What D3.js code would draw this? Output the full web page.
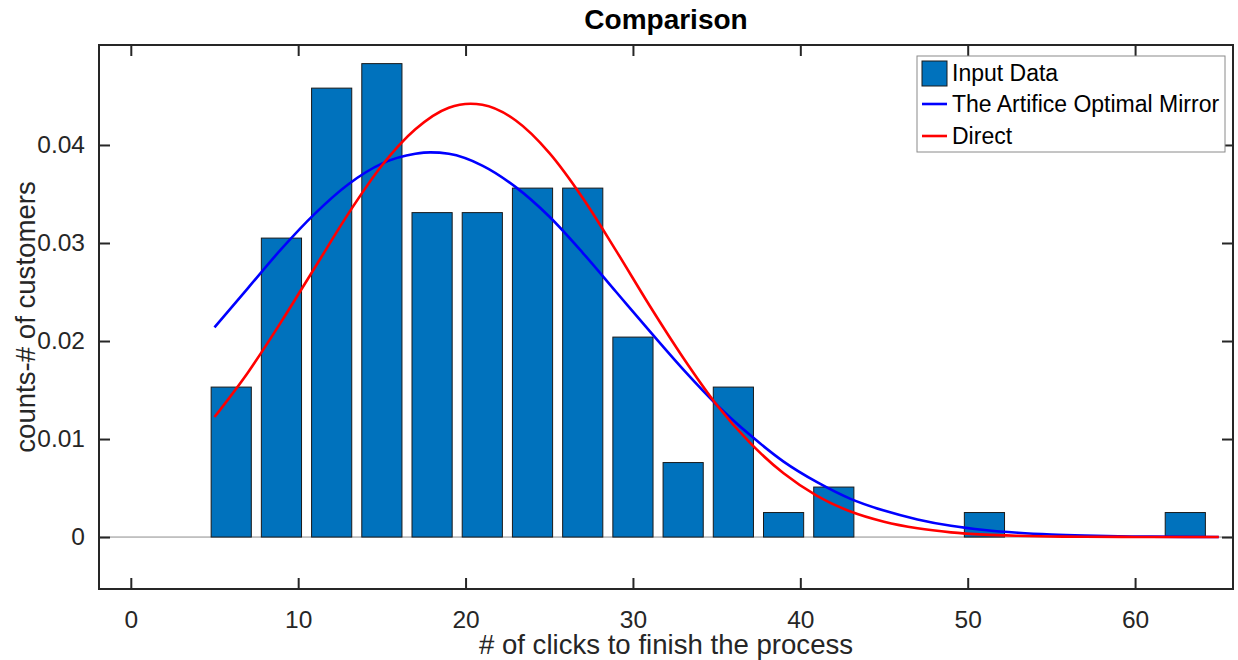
<!DOCTYPE html>
<html>
<head>
<meta charset="utf-8">
<script src="https://cdn.jsdelivr.net/npm/d3@7"></script>
<style>
  html, body { margin: 0; padding: 0; background: #fff; }
  svg { display: block; font-family: "Liberation Sans", Arial, Helvetica, sans-serif; }
</style>
</head>
<body>
<svg id="chart" width="1238" height="660"></svg>
<script>
// ---- data ----
const binCenters = [6, 9, 12, 15, 18, 21, 24, 27, 30, 33, 36, 39, 42, 45, 48, 51, 54, 57, 60, 63];
const binValues  = [0.0153, 0.0305, 0.0458, 0.0483, 0.0331, 0.0331, 0.0356, 0.0356, 0.0204, 0.0076,
                    0.0153, 0.0025, 0.0051, 0, 0, 0.0025, 0, 0, 0, 0.0025];
const binWidth = 3;

const mirrorX = [5, 7, 9, 11, 13, 15, 17, 17.9, 19, 21, 23, 25, 27, 29, 31, 33, 35, 37, 39, 41, 43, 45, 47, 49, 51, 53, 55, 57, 59, 61, 63, 65];
const mirrorY = [0.0214, 0.0254, 0.0294, 0.0330, 0.0360, 0.0381, 0.0391, 0.03925, 0.0391, 0.0379, 0.0357, 0.0327,
                 0.0290, 0.0250, 0.0210, 0.0171, 0.0135, 0.0104, 0.0077, 0.0056, 0.0039, 0.0027, 0.0018, 0.00115,
                 0.00072, 0.00044, 0.00026, 0.00015, 0.00008, 0.00004, 0.00002, 0.00001];

const directX = [5, 7, 9, 11, 13, 15, 17, 19, 20.3, 21, 23, 25, 27, 29, 31, 33, 35, 37, 39, 41, 43, 45, 47, 49, 51, 53, 55, 57, 60, 65];
const directY = [0.01225, 0.0168, 0.0220, 0.0275, 0.0330, 0.0379, 0.0416, 0.0438, 0.0442, 0.0441, 0.0425, 0.0392,
                 0.0346, 0.0292, 0.0236, 0.0183, 0.0135, 0.0096, 0.0065, 0.0042, 0.0026, 0.00156, 0.00089, 0.00048,
                 0.00025, 0.00013, 0.00006, 0.00003, 0.00001, 0];

const xTicks = [0, 10, 20, 30, 40, 50, 60];
const yTicks = [0, 0.01, 0.02, 0.03, 0.04];
const yTickLabels = ["0", "0.01", "0.02", "0.03", "0.04"];
const legendLabels = ["Input Data", "The Artifice Optimal Mirror", "Direct"];

const titleText = "Comparison";
const xLabelText = "# of clicks to finish the process";
const yLabelText = "counts-# of customers";

// ---- layout ----
const L = 99, R = 1233, T = 45, B = 589;
const barColor = "#0072BD", blue = "#0000FF", red = "#FF0000", axisColor = "#262626";

const svg = d3.select("#chart");
const x = d3.scaleLinear().domain([-1.9, 65.85]).range([L, R]);
const y = d3.scaleLinear().domain([-0.0053, 0.0502]).range([B, T]);

// baseline
svg.append("line")
  .attr("x1", L).attr("x2", R).attr("y1", y(0)).attr("y2", y(0))
  .attr("stroke", "#8c8c8c").attr("stroke-width", 1);

// bars
const bars = binCenters.map((c, i) => ({c, v: binValues[i]})).filter(d => d.v > 0);
svg.append("g").selectAll("rect").data(bars).join("rect")
  .attr("x", d => x(d.c - binWidth * 0.4))
  .attr("width", d => x(d.c + binWidth * 0.4) - x(d.c - binWidth * 0.4))
  .attr("y", d => y(d.v))
  .attr("height", d => y(0) - y(d.v))
  .attr("fill", barColor)
  .attr("stroke", "#1a1a1a")
  .attr("stroke-width", 1);

// curves
const line = d3.line().x(d => x(d[0])).y(d => y(d[1])).curve(d3.curveMonotoneX);
svg.append("path")
  .attr("d", line(mirrorX.map((v, i) => [v, mirrorY[i]])))
  .attr("fill", "none").attr("stroke", blue).attr("stroke-width", 2.6);
svg.append("path")
  .attr("d", line(directX.map((v, i) => [v, directY[i]])))
  .attr("fill", "none").attr("stroke", red).attr("stroke-width", 2.6);

// axes
const tickLen = 11;
const fontTick = 24.5;
const gB = svg.append("g").attr("transform", `translate(0,${B})`)
  .call(d3.axisBottom(x).tickValues(xTicks).tickSize(-tickLen).tickPadding(22).tickSizeOuter(0));
const gL = svg.append("g").attr("transform", `translate(${L},0)`)
  .call(d3.axisLeft(y).tickValues(yTicks).tickFormat((d, i) => yTickLabels[i]).tickSize(-tickLen).tickPadding(14).tickSizeOuter(0));
const gT = svg.append("g").attr("transform", `translate(0,${T})`)
  .call(d3.axisTop(x).tickValues(xTicks).tickSize(-tickLen).tickFormat("").tickSizeOuter(0));
const gR = svg.append("g").attr("transform", `translate(${R},0)`)
  .call(d3.axisRight(y).tickValues(yTicks).tickSize(-tickLen).tickFormat("").tickSizeOuter(0));
[gB, gL, gT, gR].forEach(g => {
  g.select(".domain").remove();
  g.selectAll(".tick line").attr("stroke", axisColor).attr("stroke-width", 2);
  g.selectAll(".tick text").attr("fill", axisColor).attr("font-size", fontTick)
    .attr("font-family", '"Liberation Sans", Arial, sans-serif');
});

// frame
svg.append("rect").attr("x", L).attr("y", T).attr("width", R - L).attr("height", B - T)
  .attr("fill", "none").attr("stroke", axisColor).attr("stroke-width", 2);

// title and labels
svg.append("text").attr("x", (L + R) / 2).attr("y", 29).attr("text-anchor", "middle")
  .attr("font-size", 28).attr("font-weight", "bold").attr("fill", "#000").text(titleText);
svg.append("text").attr("x", (L + R) / 2).attr("y", 654).attr("text-anchor", "middle")
  .attr("font-size", 27.6).attr("fill", axisColor).text(xLabelText);
svg.append("text").attr("transform", `translate(35,${(T + B) / 2}) rotate(-90)`).attr("text-anchor", "middle")
  .attr("font-size", 27.6).attr("fill", axisColor).text(yLabelText);

// legend
const lg = svg.append("g");
lg.append("rect").attr("x", 917).attr("y", 56).attr("width", 308).attr("height", 96)
  .attr("fill", "#fff").attr("stroke", "#8a8a8a").attr("stroke-width", 1);
const rowsY = [73, 104, 136];
lg.append("rect").attr("x", 922).attr("y", rowsY[0] - 12).attr("width", 25).attr("height", 25)
  .attr("fill", barColor).attr("stroke", "#1a1a1a").attr("stroke-width", 1);
[blue, red].forEach((c, i) => {
  lg.append("line").attr("x1", 922).attr("x2", 947).attr("y1", rowsY[i + 1]).attr("y2", rowsY[i + 1])
    .attr("stroke", c).attr("stroke-width", 2.6);
});
legendLabels.forEach((t, i) => {
  lg.append("text").attr("x", 952).attr("y", rowsY[i]).attr("dy", "0.35em")
    .attr("font-size", 23).attr("fill", "#000").text(t);
});
</script>
</body>
</html>
